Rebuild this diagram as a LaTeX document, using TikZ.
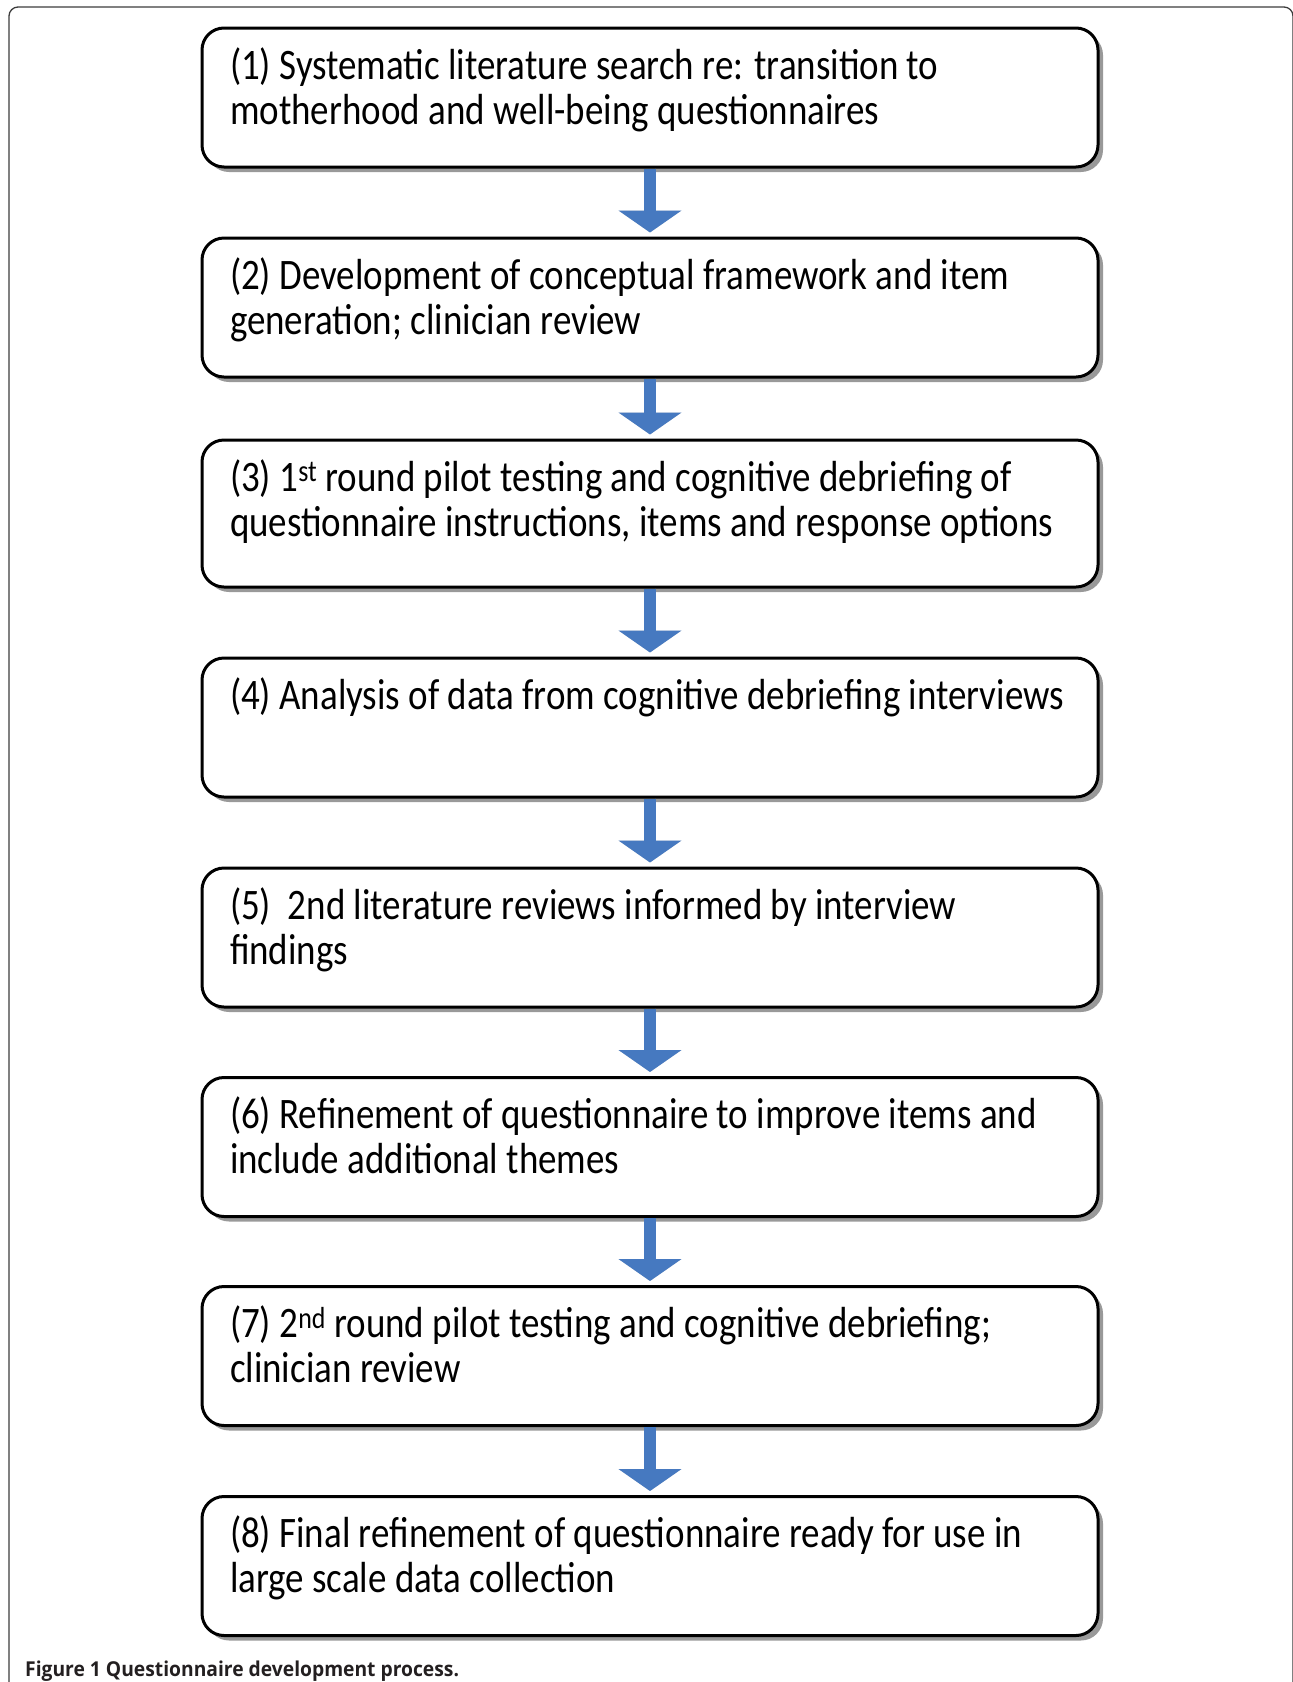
\documentclass[tikz,border=0pt]{standalone}
\usepackage{fontspec}
\setmainfont{Carlito}[FakeStretch=0.85]
\newfontfamily\capfont{Open Sans}[FakeStretch=0.94]
\usetikzlibrary{arrows.meta,shadows}
\definecolor{arrowblue}{RGB}{70,121,192}
\definecolor{framegray}{RGB}{60,60,60}
\definecolor{captext}{RGB}{35,31,32}
\newcommand\steptext[2][139pt]{\parbox[c][#1][t]{840pt}{\rule{0pt}{51pt}#2}}
\tikzset{
  stepbox/.style={draw, line width=3pt, rounded corners=22pt, fill=white,
    inner xsep=28pt, inner ysep=0pt, anchor=north west,
    drop shadow={shadow xshift=5pt, shadow yshift=-5pt, fill=black!40, opacity=1},
    font=\fontsize{43.5pt}{45pt}\selectfont},
  flowarr/.style={line width=12pt, arrowblue, shorten >=4pt,
    -{Triangle[width=62pt,length=22pt]}},
  flowshadow/.style={flowarr, black!15, yshift=-5pt, xshift=1pt}
}
\begin{document}
\begin{tikzpicture}[x=1pt,y=-1pt]
	\useasboundingbox (0,0) rectangle (1293,1682);
	% outer frame
	\draw[framegray, line width=1.3pt, rounded corners=9pt] (9,1690)--(9,7)--(1293,7)--(1293,1690);
	% steps
	\node[stepbox] (b1) at (200.5,26.5) {\steptext{(1) Systematic literature search re: transition to\\motherhood and well-being questionnaires}};
	\node[stepbox] (b2) at (200.5,236.5) {\steptext{(2) Development of conceptual framework and item\\generation; clinician review}};
	\node[stepbox] (b3) at (200.5,438.5) {\steptext[147pt]{(3) 1\textsuperscript{st} round pilot testing and cognitive debriefing of\\questionnaire instructions, items and response options}};
	\node[stepbox] (b4) at (200.5,656.5) {\steptext{(4) Analysis of data from cognitive debriefing interviews}};
	\node[stepbox] (b5) at (200.5,866.5) {\steptext{(5)\ \ 2nd literature reviews informed by interview\\findings}};
	\node[stepbox] (b6) at (200.5,1076) {\steptext{(6) Refinement of questionnaire to improve items and\\include additional themes}};
	\node[stepbox] (b7) at (200.5,1285) {\steptext{(7) 2\textsuperscript{nd} round pilot testing and cognitive debriefing;\\clinician review}};
	\node[stepbox] (b8) at (200.5,1495) {\steptext{(8) Final refinement of questionnaire ready for use in\\large scale data collection}};
	% arrows
	\foreach \a/\b in {b1/b2,b2/b3,b3/b4,b4/b5,b5/b6,b6/b7,b7/b8}{
		\draw[flowshadow] (\a.south) -- (\b.north);
		\draw[flowarr] (\a.south) -- (\b.north);
	}
	% caption
	\node[anchor=base west, inner sep=0pt, font=\capfont\bfseries\fontsize{20.5pt}{24pt}\selectfont, color=captext] (cap) at (25,1676)
		{Figure 1 Questionnaire development process.};
\end{tikzpicture}
\end{document}
